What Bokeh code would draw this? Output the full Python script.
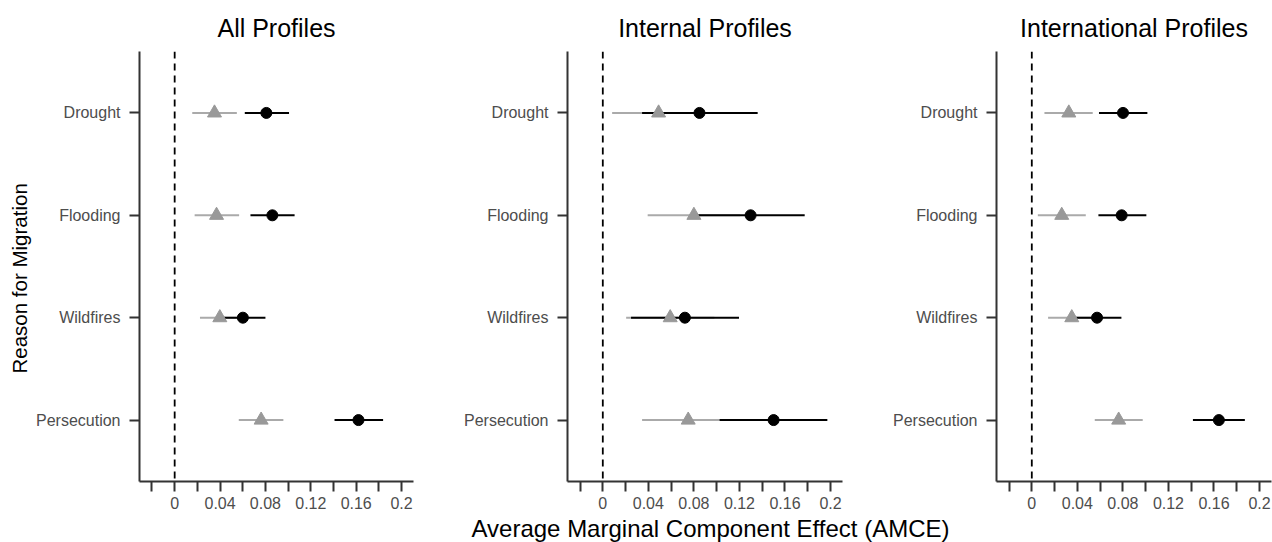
from bokeh.plotting import figure
from bokeh.layouts import row, column
from bokeh.models import Range1d, FixedTicker, Span, ColumnDataSource, CustomJSTickFormatter, Title
from bokeh.embed import file_html
from bokeh.resources import INLINE

# ---------------- data ----------------
categories = ["Drought", "Flooding", "Wildfires", "Persecution"]
panel_titles = ["All Profiles", "Internal Profiles", "International Profiles"]
x_title = "Average Marginal Component Effect (AMCE)"
y_title = "Reason for Migration"

xticks = [-0.02, 0.0, 0.02, 0.04, 0.06, 0.08, 0.1, 0.12, 0.14, 0.16, 0.18, 0.2]
xtick_labels = ["", "0", "", "0.04", "", "0.08", "", "0.12", "", "0.16", "", "0.2"]

# All Profiles (grey triangles = series A, black circles = series B)
all_a_est = [0.0351, 0.0369, 0.0398, 0.0762]
all_a_lo = [0.0155, 0.0176, 0.0223, 0.0565]
all_a_hi = [0.0548, 0.0568, 0.0573, 0.0958]
all_b_est = [0.0808, 0.0861, 0.0601, 0.1620]
all_b_lo = [0.0618, 0.0668, 0.0402, 0.1409]
all_b_hi = [0.1008, 0.1057, 0.0800, 0.1837]

# Internal Profiles
int_a_est = [0.0490, 0.0800, 0.0592, 0.0750]
int_a_lo = [0.0082, 0.0394, 0.0205, 0.0345]
int_a_hi = [0.0898, 0.1206, 0.0980, 0.1155]
int_b_est = [0.0849, 0.1298, 0.0721, 0.1500]
int_b_lo = [0.0345, 0.0823, 0.0248, 0.1026]
int_b_hi = [0.1360, 0.1773, 0.1196, 0.1972]

# International Profiles
intl_a_est = [0.0325, 0.0263, 0.0351, 0.0763]
intl_a_lo = [0.0111, 0.0053, 0.0143, 0.0553]
intl_a_hi = [0.0535, 0.0474, 0.0559, 0.0974]
intl_b_est = [0.0801, 0.0789, 0.0573, 0.1643]
intl_b_lo = [0.0590, 0.0585, 0.0360, 0.1415]
intl_b_hi = [0.1015, 0.1006, 0.0787, 0.1871]

# ---------------- styling ----------------
FONT = "Liberation Sans"
AXIS_COL = "#333333"
TICK_TXT = "#4d4d4d"
GREY_LINE = "#aaaaaa"
GREY_PT = "#999999"
H = 514
Y_POS = [len(categories) - i for i in range(len(categories))]

LOOKUP = "const i = tv.findIndex(t => Math.abs(t - tick) < 1e-9); return i >= 0 ? lab[i] : '';"


def make_panel(title, a_est, a_lo, a_hi, b_est, b_lo, b_hi, width, bl, br, ylabel=None):
    p = figure(width=width, height=H, x_range=Range1d(-0.031, 0.2105),
               y_range=Range1d(0.4, len(categories) + 0.6),
               output_backend="svg", toolbar_location=None,
               min_border_left=bl, min_border_right=br,
               min_border_top=51, min_border_bottom=33,
               title=title)
    p.title.align = "center"
    p.title.text_font = FONT
    p.title.text_font_size = "25px"
    p.title.text_font_style = "normal"
    p.title.text_color = "black"
    p.title.standoff = 19
    p.xgrid.visible = False
    p.ygrid.visible = False
    p.outline_line_color = None
    p.background_fill_color = "white"
    p.border_fill_color = "white"

    xa = p.xaxis[0]
    xa.ticker = FixedTicker(ticks=xticks)
    xa.formatter = CustomJSTickFormatter(args=dict(tv=xticks, lab=xtick_labels), code=LOOKUP)
    ya = p.yaxis[0]
    ya.ticker = FixedTicker(ticks=Y_POS)
    ya.formatter = CustomJSTickFormatter(args=dict(tv=Y_POS, lab=categories), code=LOOKUP)
    for ax in (xa, ya):
        ax.axis_line_color = AXIS_COL
        ax.axis_line_width = 2
        ax.major_tick_line_color = AXIS_COL
        ax.major_tick_line_width = 2
        ax.major_tick_out = 10
        ax.major_tick_in = 0
        ax.minor_tick_out = 0
        ax.minor_tick_in = 0
        ax.major_label_text_font = FONT
        ax.major_label_text_font_size = "16px"
        ax.major_label_text_color = TICK_TXT
    xa.major_label_standoff = 5
    ya.major_label_standoff = 9
    if ylabel:
        yt = Title(text=ylabel, align="left", offset=108, standoff=6,
                   text_font=FONT, text_font_size="20.5px",
                   text_font_style="normal", text_color="black")
        p.add_layout(yt, "left")

    p.add_layout(Span(location=0, dimension="height", line_color="black",
                      line_width=1.8, line_dash="7 5"))

    src = ColumnDataSource(dict(y=Y_POS, a_est=a_est, a_lo=a_lo, a_hi=a_hi,
                                b_est=b_est, b_lo=b_lo, b_hi=b_hi))
    p.segment(x0="a_lo", y0="y", x1="a_hi", y1="y", source=src,
              line_color=GREY_LINE, line_width=2)
    p.segment(x0="b_lo", y0="y", x1="b_hi", y1="y", source=src,
              line_color="black", line_width=2)
    p.scatter(x="a_est", y="y", source=src, marker="triangle", size=14,
              fill_color=GREY_PT, line_color=GREY_PT)
    p.scatter(x="b_est", y="y", source=src, marker="circle", size=11,
              fill_color="black", line_color="black")
    return p


p1 = make_panel(panel_titles[0], all_a_est, all_a_lo, all_a_hi,
                all_b_est, all_b_lo, all_b_hi, 423, 139, 10, ylabel=y_title)
p2 = make_panel(panel_titles[1], int_a_est, int_a_lo, int_a_hi,
                int_b_est, int_b_lo, int_b_hi, 429, 144, 10)
p3 = make_panel(panel_titles[2], intl_a_est, intl_a_lo, intl_a_hi,
                intl_b_est, intl_b_lo, intl_b_hi, 420, 144, 1)

# shared x-axis title, drawn as the axis label of a thin strip aligned under the middle panel
pt = figure(width=1272, height=28, x_range=Range1d(0, 1), y_range=Range1d(0, 1),
            output_backend="svg", toolbar_location=None,
            min_border_left=567, min_border_right=419, min_border_top=0, min_border_bottom=27)
pt.yaxis.visible = False
pt.xgrid.visible = False
pt.ygrid.visible = False
pt.outline_line_color = None
ax = pt.xaxis[0]
ax.ticker = FixedTicker(ticks=[])
ax.axis_line_color = None
ax.major_tick_out = 0
ax.major_tick_in = 0
ax.minor_tick_out = 0
ax.minor_tick_in = 0
ax.major_label_standoff = 0
ax.axis_label_standoff = 0
ax.axis_label = x_title
ax.axis_label_text_font = FONT
ax.axis_label_text_font_size = "24px"
ax.axis_label_text_font_style = "normal"
ax.axis_label_text_color = "black"

layout = column(row(p1, p2, p3), pt)
open("out.html", "w").write(file_html(layout, INLINE))
